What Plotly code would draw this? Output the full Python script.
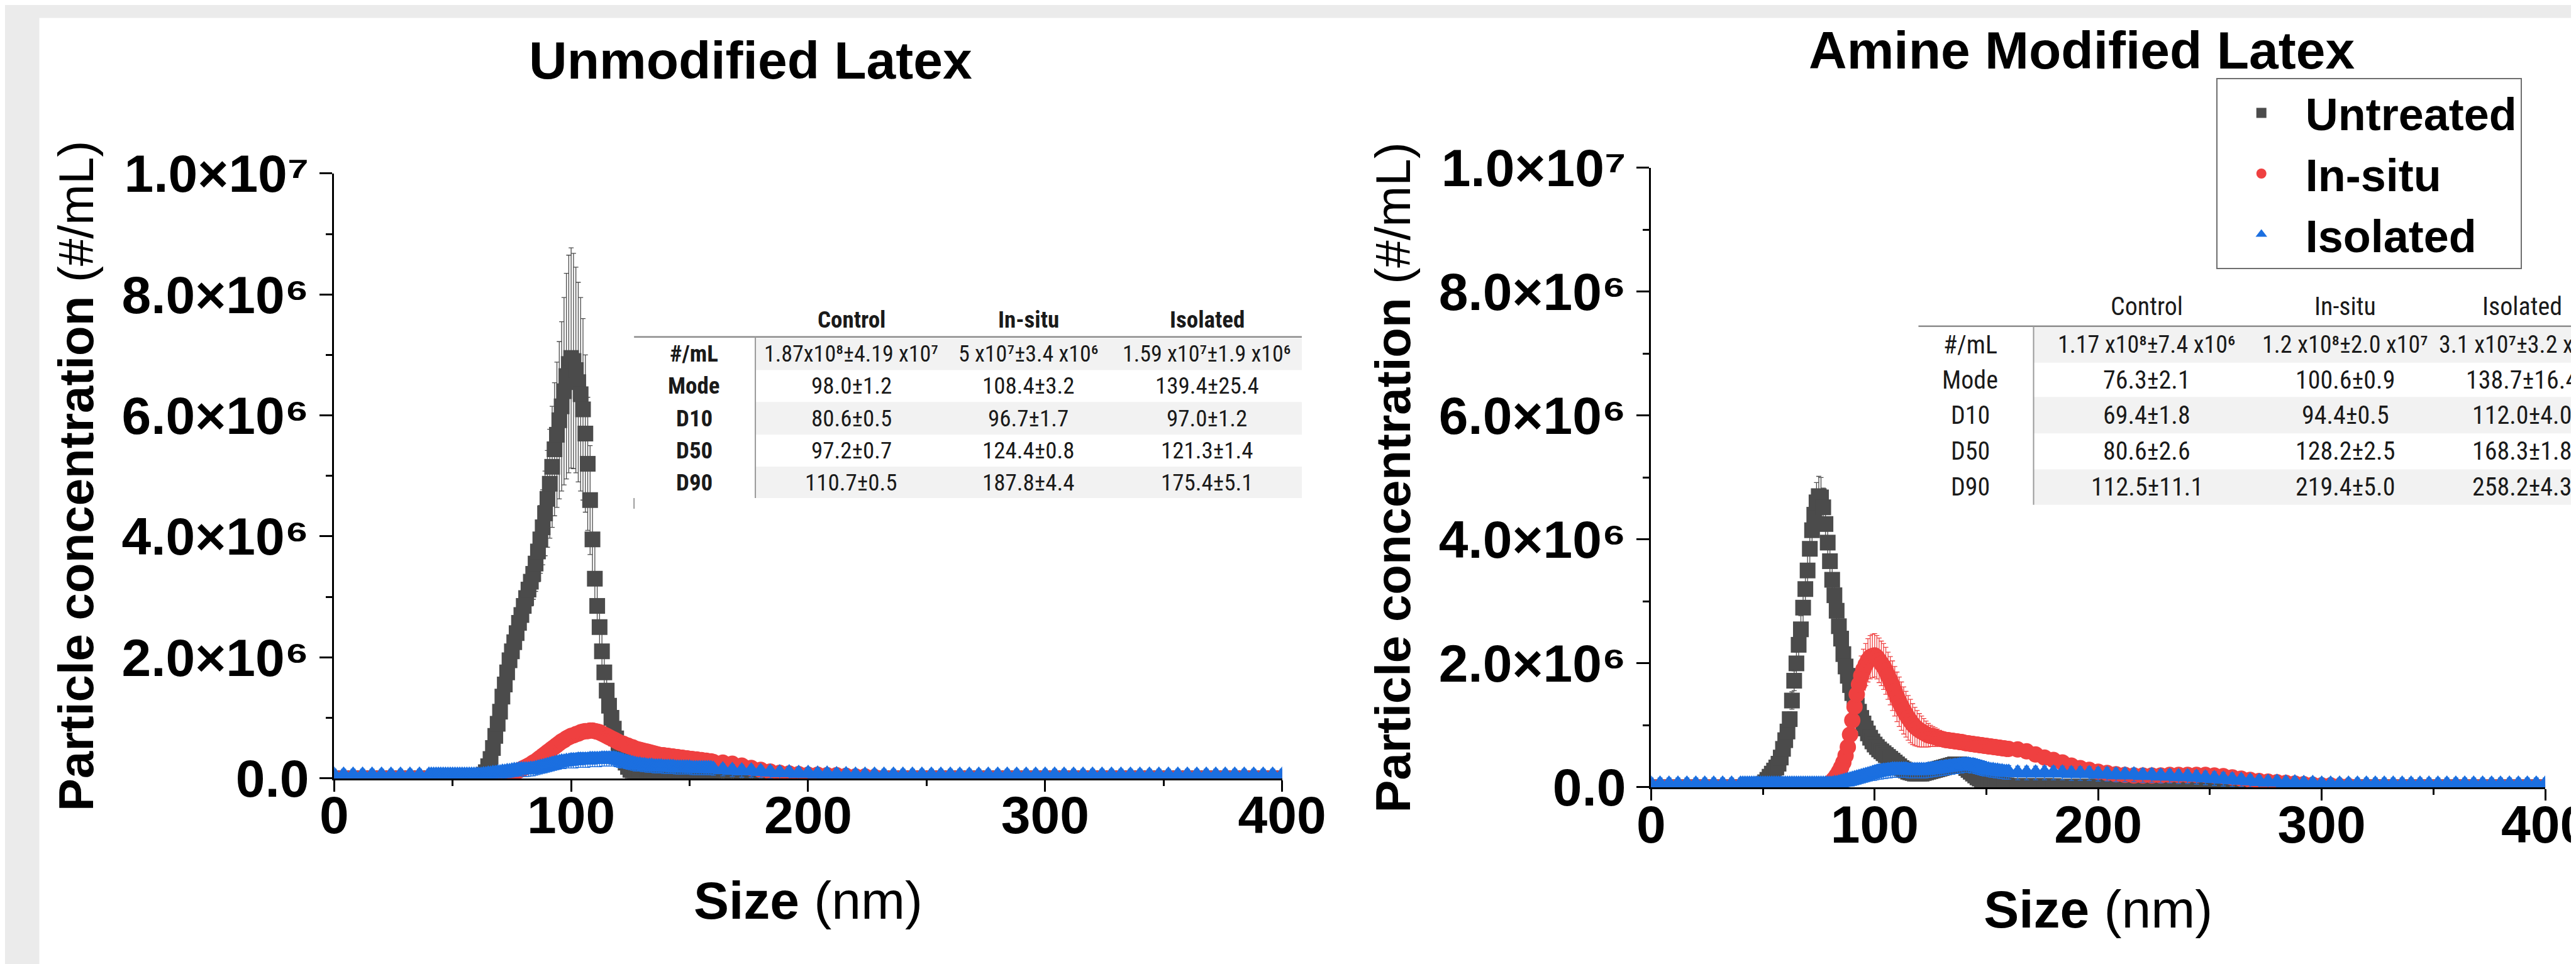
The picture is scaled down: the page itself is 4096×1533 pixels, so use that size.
import plotly.graph_objects as go

W, H = 4096, 1533
S = 0.893  # reference pixels -> output pixels

# ----------------------------------------------------------------- data
# size bins (nm): 4-nm bins at both ends, 1-nm bins through the peaks
SIZE_NM = list(range(0, 40, 4)) + list(range(40, 160)) + list(range(160, 401, 4))
UNIT = 1e4  # list values below are in units of 1e4 particles/mL

# ---- Unmodified latex
UNMOD_UNTREATED = [
    0, 0, 0, 0, 0, 0, 0, 0, 0, 0,                       # 0-36
    0, 0, 0, 0, 0, 0, 0, 0, 0, 0,                       # 40-49
    0, 0, 0, 0, 0, 0, 0, 0, 0, 0,                       # 50-59
    0, 1, 3, 6, 10, 20, 32, 50, 70, 90,                 # 60-69
    110, 135, 155, 175, 195, 210, 225, 240, 257, 270,   # 70-79
    285, 298, 312, 325, 338, 355, 375, 395, 415, 438,   # 80-89
    462, 487, 515, 544, 568, 592, 615, 640, 665, 685,   # 90-99
    695, 690, 675, 655, 635, 610, 570, 520, 460, 395,   # 100-109
    330, 285, 250, 210, 175, 145, 120, 100, 82, 66,     # 110-119
    52, 42, 34, 26, 19, 14, 10, 7, 5, 4,                # 120-129
    3, 3, 3, 3, 3, 3, 2, 2, 2, 2,                       # 130-139
    2, 2, 2, 2, 2, 2, 1, 1, 1, 1,                       # 140-149
    1, 1, 1, 1, 1, 1, 0, 0, 0, 0,                       # 150-159
    0, 0, 0, 0, 0, 0, 0, 0, 0, 0,                       # 160-196
    0, 0, 0, 0, 0, 0, 0, 0, 0, 0,                       # 200-236
    0, 0, 0, 0, 0, 0, 0, 0, 0, 0,                       # 240-276
    0, 0, 0, 0, 0, 0, 0, 0, 0, 0,                       # 280-316
    0, 0, 0, 0, 0, 0, 0, 0, 0, 0,                       # 320-356
    0, 0, 0, 0, 0, 0, 0, 0, 0, 0,                       # 360-396
    0]                                                  # 400
UNMOD_UNTREATED_ERR = [
    2, 2, 2, 2, 2, 2, 2, 2, 2, 2,
    2, 2, 2, 2, 2, 2, 2, 2, 2, 2,
    2, 2, 2, 2, 2, 2, 2, 2, 2, 2,
    2, 2, 3, 4, 5, 6, 8, 10, 12, 14,
    16, 18, 20, 22, 24, 25, 26, 28, 30, 32,
    34, 36, 38, 40, 42, 46, 50, 56, 62, 70,
    80, 90, 100, 110, 120, 130, 140, 155, 170, 180,
    182, 178, 170, 165, 160, 150, 130, 110, 90, 70,
    55, 45, 38, 32, 26, 22, 18, 15, 12, 10,
    8, 7, 6, 5, 4, 4, 3, 3, 3, 3,
    2, 2, 2, 2, 2, 2, 2, 2, 2, 2,
    2, 2, 2, 2, 2, 2, 2, 2, 2, 2,
    2, 2, 2, 2, 2, 2, 2, 2, 2, 2,
    1, 1, 1, 1, 1, 1, 1, 1, 1, 1,
    1, 1, 1, 1, 1, 1, 1, 1, 1, 1,
    1, 1, 1, 1, 1, 1, 1, 1, 1, 1,
    1, 1, 1, 1, 1, 1, 1, 1, 1, 1,
    1, 1, 1, 1, 1, 1, 1, 1, 1, 1,
    1, 1, 1, 1, 1, 1, 1, 1, 1, 1,
    1]
UNMOD_INSITU = [
    1, 1, 1, 1, 1, 1, 1, 1, 1, 1,
    1, 1, 1, 1, 1, 1, 1, 1, 1, 1,
    1, 1, 1, 1, 1, 1, 1, 2, 2, 2,
    2, 2, 2, 2, 3, 3, 3, 3, 4, 4,
    5, 5, 6, 7, 8, 9, 10, 11, 13, 15,
    17, 19, 21, 23, 26, 28, 31, 34, 37, 40,
    43, 46, 49, 52, 55, 58, 61, 63, 66, 68,
    70, 71, 73, 74, 76, 77, 78, 78, 79, 79,
    78, 77, 76, 74, 72, 70, 68, 66, 64, 62,
    60, 58, 57, 55, 54, 52, 51, 49, 48, 47,
    46, 45, 44, 43, 42, 41, 40, 39, 38, 38,
    37, 37, 36, 36, 35, 35, 34, 34, 33, 33,
    32, 32, 31, 31, 30, 30, 29, 29, 28, 28,
    27, 26, 24, 21, 17, 14, 11, 9, 8, 7,
    6, 6, 5, 5, 4, 3, 3, 2, 1, 1,
    1, 1, 1, 1, 1, 1, 1, 1, 1, 1,
    1, 1, 1, 1, 1, 1, 1, 1, 1, 1,
    1, 1, 1, 1, 1, 1, 1, 1, 1, 1,
    1, 1, 1, 1, 1, 1, 1, 1, 1, 1,
    1]
UNMOD_INSITU_ERR = [
    2, 2, 3, 2, 8, 10, 9, 10, 8, 3,
    3, 10, 9, 3, 2, 2, 2, 2, 2, 2,
    3, 9, 10, 10, 11, 9, 8, 6, 5, 4,
    3, 3, 3, 4, 4, 4, 5, 5, 5, 6,
    6, 6, 7, 7, 7, 8, 8, 8, 9, 9,
    9, 10, 10, 10, 10, 11, 11, 11, 11, 12,
    12, 12, 12, 12, 12, 12, 12, 12, 12, 12,
    12, 12, 12, 12, 12, 12, 12, 12, 12, 12,
    12, 12, 12, 12, 12, 12, 12, 12, 12, 12,
    12, 10, 10, 10, 9, 9, 9, 9, 8, 8,
    8, 8, 8, 8, 8, 7, 7, 7, 7, 7,
    7, 7, 7, 7, 7, 7, 6, 6, 6, 6,
    6, 6, 6, 6, 6, 6, 6, 6, 6, 6,
    6, 6, 6, 6, 6, 6, 6, 6, 6, 6,
    6, 6, 6, 6, 6, 6, 6, 6, 8, 10,
    3, 9, 10, 11, 10, 9, 3, 3, 3, 3,
    3, 9, 10, 3, 10, 9, 3, 3, 9, 2,
    2, 2, 2, 2, 2, 2, 2, 2, 2, 2,
    2, 2, 2, 2, 2, 2, 2, 2, 2, 2,
    2]
UNMOD_ISOLATED = [
    5, 5, 5, 5, 5, 5, 5, 5, 5, 5,
    5, 5, 5, 5, 5, 5, 5, 5, 5, 5,
    5, 5, 5, 5, 5, 5, 5, 5, 5, 5,
    5, 5, 5, 6, 6, 7, 7, 8, 8, 9,
    9, 10, 10, 11, 11, 12, 13, 13, 14, 14,
    14, 14, 14, 15, 15, 16, 17, 18, 19, 20,
    21, 22, 23, 24, 25, 26, 27, 27, 28, 28,
    29, 29, 29, 30, 30, 30, 30, 30, 31, 31,
    31, 31, 31, 32, 32, 32, 32, 32, 32, 31,
    30, 29, 28, 27, 26, 25, 24, 23, 22, 22,
    21, 21, 20, 20, 20, 19, 19, 19, 19, 18,
    18, 18, 18, 18, 17, 17, 17, 17, 17, 17,
    17, 16, 16, 16, 16, 16, 16, 16, 16, 16,
    15, 14, 13, 12, 12, 11, 10, 9, 9, 8,
    8, 7, 7, 6, 6, 5, 5, 5, 5, 5,
    5, 5, 5, 5, 5, 5, 5, 5, 5, 5,
    5, 5, 5, 5, 5, 5, 5, 5, 5, 5,
    5, 5, 5, 5, 5, 5, 5, 5, 5, 5,
    5, 5, 5, 5, 5, 5, 5, 5, 5, 5,
    5]
UNMOD_ISOLATED_ERR = [
    10, 10, 10, 10, 10, 10, 10, 10, 10, 10,
    10, 10, 10, 10, 10, 10, 10, 10, 10, 10,
    10, 10, 10, 10, 10, 10, 10, 10, 10, 10,
    10, 10, 10, 10, 10, 10, 10, 10, 10, 10,
    10, 10, 10, 10, 10, 10, 10, 10, 10, 10,
    11, 11, 11, 11, 11, 11, 11, 11, 11, 11,
    11, 11, 11, 11, 11, 11, 11, 11, 11, 11,
    12, 12, 12, 12, 12, 12, 12, 12, 12, 12,
    12, 12, 12, 12, 12, 12, 12, 12, 12, 12,
    12, 12, 11, 11, 11, 11, 11, 11, 10, 10,
    10, 10, 10, 10, 10, 10, 10, 10, 10, 10,
    10, 10, 10, 10, 10, 10, 10, 10, 10, 10,
    10, 10, 10, 10, 10, 10, 10, 10, 10, 10,
    10, 10, 10, 10, 10, 10, 10, 10, 10, 10,
    10, 10, 10, 10, 10, 10, 10, 10, 10, 10,
    10, 10, 10, 10, 10, 10, 10, 10, 10, 10,
    10, 10, 10, 10, 10, 10, 10, 10, 10, 10,
    10, 10, 10, 10, 10, 10, 10, 10, 10, 10,
    10, 10, 10, 10, 10, 10, 10, 10, 10, 10,
    10]

# ---- Amine modified latex
AMINE_UNTREATED = [
    0, 0, 0, 0, 0, 0, 0, 0, 0, 0,
    0, 0, 0, 0, 0, 0, 0, 0, 2, 3,
    5, 8, 12, 17, 22, 27, 32, 38, 48, 62,
    76, 90, 110, 140, 172, 200, 230, 255, 290, 320,
    350, 385, 415, 440, 460, 470, 468, 452, 425, 395,
    365, 335, 310, 285, 260, 240, 215, 195, 180, 165,
    152, 142, 132, 122, 112, 103, 95, 87, 80, 74,
    69, 65, 61, 58, 55, 52, 49, 46, 43, 40,
    37, 34, 31, 29, 27, 25, 24, 23, 22, 22,
    22, 22, 23, 24, 25, 26, 27, 28, 29, 30,
    31, 32, 33, 34, 35, 36, 37, 37, 37, 36,
    34, 31, 28, 25, 22, 19, 16, 14, 12, 10,
    9, 8, 7, 6, 5, 5, 4, 4, 3, 3,
    2, 2, 2, 2, 2, 2, 1, 1, 1, 1,
    1, 1, 1, 1, 1, 1, 1, 1, 0, 0,
    0, 0, 0, 0, 0, 0, 0, 0, 0, 0,
    0, 0, 0, 0, 0, 0, 0, 0, 0, 0,
    0, 0, 0, 0, 0, 0, 0, 0, 0, 0,
    0, 0, 0, 0, 0, 0, 0, 0, 0, 0,
    0]
AMINE_UNTREATED_ERR = [
    1, 1, 1, 1, 1, 1, 1, 1, 1, 1,
    1, 1, 1, 1, 1, 1, 1, 1, 2, 2,
    3, 3, 4, 4, 5, 5, 6, 6, 7, 8,
    9, 10, 12, 14, 16, 18, 20, 22, 24, 26,
    28, 30, 31, 32, 32, 32, 32, 31, 30, 29,
    28, 27, 26, 25, 24, 24, 23, 23, 22, 22,
    22, 22, 22, 21, 21, 21, 20, 20, 20, 19,
    19, 18, 18, 17, 17, 16, 16, 15, 15, 14,
    14, 13, 13, 12, 12, 12, 11, 11, 11, 10,
    10, 10, 10, 10, 11, 11, 11, 11, 12, 12,
    12, 12, 13, 13, 13, 13, 12, 12, 11, 10,
    9, 9, 8, 8, 7, 7, 6, 6, 5, 5,
    4, 4, 4, 3, 3, 3, 3, 2, 2, 2,
    2, 2, 2, 2, 2, 2, 2, 2, 2, 2,
    2, 2, 2, 2, 2, 2, 2, 2, 2, 2,
    2, 2, 2, 2, 2, 2, 2, 2, 2, 2,
    2, 2, 2, 2, 2, 2, 2, 2, 2, 2,
    2, 2, 2, 2, 2, 2, 2, 2, 2, 2,
    2, 2, 2, 2, 2, 2, 2, 2, 2, 2,
    2]
AMINE_INSITU = [
    1, 1, 1, 1, 1, 1, 1, 1, 1, 1,
    1, 1, 1, 1, 1, 1, 1, 1, 1, 1,
    1, 1, 1, 1, 1, 1, 1, 1, 1, 1,
    1, 1, 1, 1, 1, 1, 1, 1, 1, 1,
    1, 1, 1, 1, 1, 1, 1, 2, 3, 4,
    7, 10, 14, 19, 25, 32, 40, 51, 65, 85,
    108, 130, 150, 166, 180, 190, 198, 205, 210, 212,
    213, 210, 205, 200, 195, 188, 180, 172, 164, 155,
    146, 138, 131, 124, 118, 112, 107, 102, 98, 95,
    92, 90, 88, 86, 84, 83, 82, 81, 80, 79,
    78, 77, 76, 76, 75, 75, 74, 74, 73, 73,
    72, 71, 71, 70, 70, 69, 69, 68, 68, 67,
    67, 66, 66, 65, 65, 64, 64, 63, 63, 62,
    62, 61, 58, 53, 48, 44, 40, 35, 31, 28,
    25, 23, 21, 20, 19, 19, 19, 19, 20, 20,
    20, 20, 20, 19, 18, 16, 14, 12, 10, 9,
    8, 7, 6, 5, 4, 3, 3, 2, 2, 1,
    1, 1, 1, 1, 1, 1, 1, 1, 1, 1,
    1, 1, 1, 1, 1, 1, 1, 1, 1, 1,
    1]
AMINE_INSITU_ERR = [
    2, 2, 2, 2, 2, 2, 9, 10, 9, 2,
    2, 2, 2, 2, 2, 2, 2, 2, 2, 2,
    2, 2, 2, 2, 2, 2, 2, 2, 2, 2,
    2, 2, 3, 3, 3, 3, 3, 3, 3, 3,
    3, 3, 3, 3, 3, 3, 3, 3, 4, 5,
    6, 8, 10, 12, 14, 16, 18, 20, 22, 24,
    26, 28, 30, 31, 32, 33, 34, 35, 35, 35,
    35, 35, 36, 36, 37, 38, 38, 39, 40, 40,
    40, 40, 39, 38, 37, 36, 35, 33, 31, 29,
    27, 25, 23, 21, 19, 17, 16, 15, 14, 13,
    12, 12, 11, 11, 10, 10, 10, 10, 10, 10,
    10, 10, 10, 10, 10, 10, 10, 10, 10, 10,
    10, 10, 10, 10, 10, 10, 10, 10, 10, 10,
    8, 8, 8, 8, 8, 8, 8, 8, 8, 8,
    8, 8, 8, 8, 6, 6, 6, 6, 6, 6,
    6, 6, 6, 6, 6, 6, 6, 6, 6, 6,
    6, 6, 6, 6, 6, 6, 6, 6, 6, 8,
    10, 9, 2, 10, 9, 9, 2, 2, 10, 9,
    2, 2, 9, 10, 2, 2, 2, 2, 2, 2,
    2]
AMINE_ISOLATED = [
    5, 5, 5, 5, 5, 5, 5, 5, 5, 5,
    5, 5, 5, 5, 5, 5, 5, 5, 5, 5,
    5, 5, 5, 5, 5, 5, 5, 5, 5, 5,
    5, 5, 5, 5, 5, 5, 5, 5, 5, 5,
    5, 5, 5, 5, 5, 5, 5, 5, 5, 5,
    5, 5, 6, 6, 7, 8, 9, 10, 11, 12,
    13, 14, 15, 16, 17, 18, 19, 20, 21, 22,
    23, 24, 25, 25, 26, 26, 27, 27, 28, 28,
    28, 28, 28, 28, 28, 27, 27, 27, 27, 27,
    27, 27, 27, 27, 28, 28, 29, 29, 30, 30,
    31, 31, 32, 32, 33, 33, 34, 34, 35, 35,
    36, 36, 36, 35, 35, 34, 33, 32, 31, 30,
    29, 28, 27, 27, 26, 26, 25, 25, 24, 24,
    24, 23, 23, 23, 23, 23, 23, 22, 22, 22,
    21, 21, 20, 20, 20, 19, 19, 18, 18, 17,
    17, 16, 15, 14, 13, 12, 11, 10, 9, 8,
    8, 7, 7, 6, 6, 5, 5, 5, 5, 5,
    5, 5, 5, 5, 5, 5, 5, 5, 5, 5,
    5, 5, 5, 5, 5, 5, 5, 5, 5, 5,
    5]
AMINE_ISOLATED_ERR = [
    10, 10, 10, 10, 10, 10, 10, 10, 10, 10,
    10, 10, 10, 10, 10, 10, 10, 10, 10, 10,
    10, 10, 10, 10, 10, 10, 10, 10, 10, 10,
    10, 10, 10, 10, 10, 10, 10, 10, 10, 10,
    10, 10, 10, 10, 10, 10, 10, 10, 10, 10,
    10, 10, 10, 10, 10, 10, 10, 10, 10, 10,
    11, 11, 11, 11, 11, 11, 11, 11, 11, 11,
    12, 12, 12, 12, 12, 12, 12, 12, 12, 12,
    12, 12, 12, 12, 12, 12, 12, 12, 12, 12,
    12, 12, 12, 12, 12, 12, 12, 12, 12, 12,
    12, 12, 12, 12, 12, 12, 12, 12, 12, 12,
    12, 12, 12, 12, 12, 12, 12, 12, 12, 12,
    11, 11, 11, 11, 11, 11, 11, 11, 11, 11,
    11, 11, 11, 11, 11, 11, 11, 11, 11, 11,
    11, 11, 11, 11, 11, 11, 11, 11, 11, 11,
    11, 11, 11, 11, 11, 11, 10, 10, 10, 10,
    10, 10, 10, 10, 10, 10, 10, 10, 10, 10,
    10, 10, 10, 10, 10, 10, 10, 10, 10, 10,
    10, 10, 10, 10, 10, 10, 10, 10, 10, 10,
    10]

SERIES_NAMES = ["Untreated", "In-situ", "Isolated"]
PANEL_TITLES = ["Unmodified Latex", "Amine Modified Latex"]
X_TICKS = [0, 100, 200, 300, 400]
X_MINOR = [50, 150, 250, 350]
Y_TICKS = [0, 2e6, 4e6, 6e6, 8e6, 1e7]
Y_TICK_TEXT = ["0.0", "2.0×10⁶", "4.0×10⁶", "6.0×10⁶", "8.0×10⁶", "1.0×10⁷"]
Y_MINOR = [1e6, 3e6, 5e6, 7e6, 9e6]

TABLE_HEADER = ["Control", "In-situ", "Isolated"]
TABLE_ROWS = ["#/mL", "Mode", "D10", "D50", "D90"]
UNMOD_TABLE = [
    ["1.87x10⁸±4.19 x10⁷", "5 x10⁷±3.4 x10⁶", "1.59 x10⁷±1.9 x10⁶"],
    ["98.0±1.2", "108.4±3.2", "139.4±25.4"],
    ["80.6±0.5", "96.7±1.7", "97.0±1.2"],
    ["97.2±0.7", "124.4±0.8", "121.3±1.4"],
    ["110.7±0.5", "187.8±4.4", "175.4±5.1"],
]
AMINE_TABLE = [
    ["1.17 x10⁸±7.4 x10⁶", "1.2 x10⁸±2.0 x10⁷", "3.1 x10⁷±3.2 x10⁶"],
    ["76.3±2.1", "100.6±0.9", "138.7±16.4"],
    ["69.4±1.8", "94.4±0.5", "112.0±4.0"],
    ["80.6±2.6", "128.2±2.5", "168.3±1.8"],
    ["112.5±11.1", "219.4±5.0", "258.2±4.3"],
]

for arr in [UNMOD_UNTREATED, UNMOD_UNTREATED_ERR, UNMOD_INSITU, UNMOD_INSITU_ERR,
            UNMOD_ISOLATED, UNMOD_ISOLATED_ERR, AMINE_UNTREATED, AMINE_UNTREATED_ERR,
            AMINE_INSITU, AMINE_INSITU_ERR, AMINE_ISOLATED, AMINE_ISOLATED_ERR]:
    assert len(arr) == len(SIZE_NM), len(arr)

# ----------------------------------------------------------------- style
FONT = "Liberation Sans, Arial, Helvetica, sans-serif"
TFONT = "Liberation Sans Narrow, Arial Narrow, Roboto Condensed, DejaVu Sans Condensed, sans-serif"
COLORS = ["#4b4b4b", "#ef4040", "#1b6fe0"]
SYMBOLS = ["square", "circle", "triangle-up"]
MSIZES = [25, 26, 28]
TICK_FS = 84
TITLE_FS = 84


def px(xr):  # reference x pixel -> paper fraction
    return xr * S / W


def py(yr):  # reference y pixel -> paper fraction
    return 1 - yr * S / H


fig = go.Figure()

panels = [
    ("x", "y", [(UNMOD_UNTREATED, UNMOD_UNTREATED_ERR), (UNMOD_INSITU, UNMOD_INSITU_ERR),
                (UNMOD_ISOLATED, UNMOD_ISOLATED_ERR)], False),
    ("x2", "y2", [(AMINE_UNTREATED, AMINE_UNTREATED_ERR), (AMINE_INSITU, AMINE_INSITU_ERR),
                  (AMINE_ISOLATED, AMINE_ISOLATED_ERR)], True),
]
for xa, ya, series, show in panels:
    for i, (vals, errs) in enumerate(series):
        fig.add_trace(go.Scatter(
            x=SIZE_NM, y=[v * UNIT for v in vals], mode="markers",
            xaxis=xa, yaxis=ya, name="<b>%s</b>" % SERIES_NAMES[i], showlegend=show,
            marker=dict(symbol=SYMBOLS[i], size=MSIZES[i], color=COLORS[i], line=dict(width=0)),
            error_y=dict(type="data", array=[e * UNIT for e in errs], color=COLORS[i],
                         thickness=1.3, width=4),
        ))


def x_axis(dom, anchor):
    return dict(
        domain=dom, anchor=anchor, range=[0, 400], automargin=False,
        tickmode="array", tickvals=X_TICKS, ticktext=["<b>%d</b>" % t for t in X_TICKS],
        showline=True, linewidth=3, linecolor="black", mirror=False,
        ticks="outside", ticklen=18, tickwidth=3, tickcolor="black",
        minor=dict(tickmode="array", tickvals=X_MINOR, ticks="outside", ticklen=9,
                   tickwidth=3, tickcolor="black", showgrid=False),
        tickfont=dict(family=FONT, size=TICK_FS, color="black"),
        ticklabelstandoff=-34, ticklabeloverflow="allow", showgrid=False, zeroline=False,
        title=dict(text="<b>Size</b> (nm)", font=dict(family=FONT, size=TICK_FS, color="black"),
                   standoff=60),
    )


def y_axis(dom, anchor):
    return dict(
        domain=dom, anchor=anchor, range=[0, 1e7], automargin=False,
        tickmode="array", tickvals=Y_TICKS, ticktext=["<b>%s</b>" % t for t in Y_TICK_TEXT],
        showline=True, linewidth=3, linecolor="black", mirror=False,
        ticks="outside", ticklen=20, tickwidth=3, tickcolor="black",
        minor=dict(tickmode="array", tickvals=Y_MINOR, ticks="outside", ticklen=10,
                   tickwidth=3, tickcolor="black", showgrid=False),
        tickfont=dict(family=FONT, size=TICK_FS, color="black"),
        ticklabelstandoff=0, ticklabeloverflow="allow", showgrid=False, zeroline=False,
        title=dict(text="<b>Particle concentration</b> (#/mL)",
                   font=dict(family=FONT, size=78, color="black"), standoff=20),
    )


shapes = [
    # white page panel on grey surround
    dict(type="rect", xref="paper", yref="paper", x0=px(61), x1=1.01, y0=-0.01, y1=py(23),
         fillcolor="white", line=dict(width=0), layer="below"),
]
annotations = [
    dict(text="<b>%s</b>" % PANEL_TITLES[0], x=px(1328), y=py(98), xref="paper", yref="paper",
         xanchor="center", yanchor="middle", showarrow=False,
         font=dict(family=FONT, size=TITLE_FS, color="black")),
    dict(text="<b>%s</b>" % PANEL_TITLES[1], x=px(3698), y=py(81), xref="paper", yref="paper",
         xanchor="center", yanchor="middle", showarrow=False,
         font=dict(family=FONT, size=TITLE_FS, color="black")),
]


def add_table(cells, header_y, bounds, label_x, col_x, hline, vline_x, right_x, fs, fs_first,
              bold, tick=None):
    # shaded rows
    for r in (0, 2, 4):
        shapes.append(dict(type="rect", xref="paper", yref="paper", x0=px(vline_x), x1=px(right_x),
                           y0=py(bounds[r + 1]), y1=py(bounds[r]), fillcolor="#f2f2f2",
                           line=dict(width=0), layer="above"))
    shapes.append(dict(type="line", xref="paper", yref="paper", x0=px(hline[0]), x1=px(right_x),
                       y0=py(hline[1]), y1=py(hline[1]), line=dict(color="#8c8c8c", width=2.5),
                       layer="above"))
    shapes.append(dict(type="line", xref="paper", yref="paper", x0=px(vline_x), x1=px(vline_x),
                       y0=py(hline[1]), y1=py(bounds[-1]), line=dict(color="#9a9a9a", width=2),
                       layer="above"))
    if tick:
        shapes.append(dict(type="line", xref="paper", yref="paper", x0=px(tick[0]), x1=px(tick[0]),
                           y0=py(tick[1]), y1=py(tick[2]), line=dict(color="#9a9a9a", width=2),
                           layer="above"))
    b = (lambda s: "<b>%s</b>" % s) if bold else (lambda s: s)
    tf = dict(family=TFONT, size=fs, color="#1a1a1a")
    for j, h in enumerate(TABLE_HEADER):
        annotations.append(dict(text=b(h), x=px(col_x[j]), y=py(header_y), xref="paper", yref="paper",
                                xanchor="center", yanchor="middle", showarrow=False, font=tf))
    for r, lab in enumerate(TABLE_ROWS):
        yc = (bounds[r] + bounds[r + 1]) / 2
        annotations.append(dict(text=b(lab), x=px(label_x), y=py(yc), xref="paper", yref="paper",
                                xanchor="center", yanchor="middle", showarrow=False, font=tf))
        cf = dict(tf, size=fs_first) if r == 0 else tf
        for j in range(3):
            annotations.append(dict(text=cells[r][j], x=px(col_x[j]), y=py(yc), xref="paper",
                                    yref="paper", xanchor="center", yanchor="middle",
                                    showarrow=False, font=cf))


add_table(UNMOD_TABLE, 560, [593, 650, 707, 765, 822, 878], 1227, [1507, 1822, 2140],
          (1120, 591), 1336, 2309, 37, 36, True, tick=(1120, 878, 897))
add_table(AMINE_TABLE, 537, [573, 637, 698, 763, 827, 890], 3499, [3814, 4167, 4482],
          (3407, 572), 3612, 4600, 40, 38, False)

fig.update_layout(
    width=W, height=H, margin=dict(l=0, r=0, t=0, b=0, pad=0, autoexpand=False),
    paper_bgcolor="#ebebeb", plot_bgcolor="white",
    xaxis=x_axis([px(586), px(2274)], "y"),
    yaxis=y_axis([py(1377), py(300)], "x"),
    xaxis2=x_axis([px(2931), px(4523)], "y2"),
    yaxis2=y_axis([py(1393), py(290)], "x2"),
    legend=dict(x=px(3937), y=py(130), xanchor="left", yanchor="top", bgcolor="white",
                bordercolor="#6e6e6e", borderwidth=2, itemwidth=130, tracegroupgap=0,
                font=dict(family=FONT, size=72, color="black")),
    shapes=shapes, annotations=annotations, showlegend=True,
)

fig.write_html("out.html")
